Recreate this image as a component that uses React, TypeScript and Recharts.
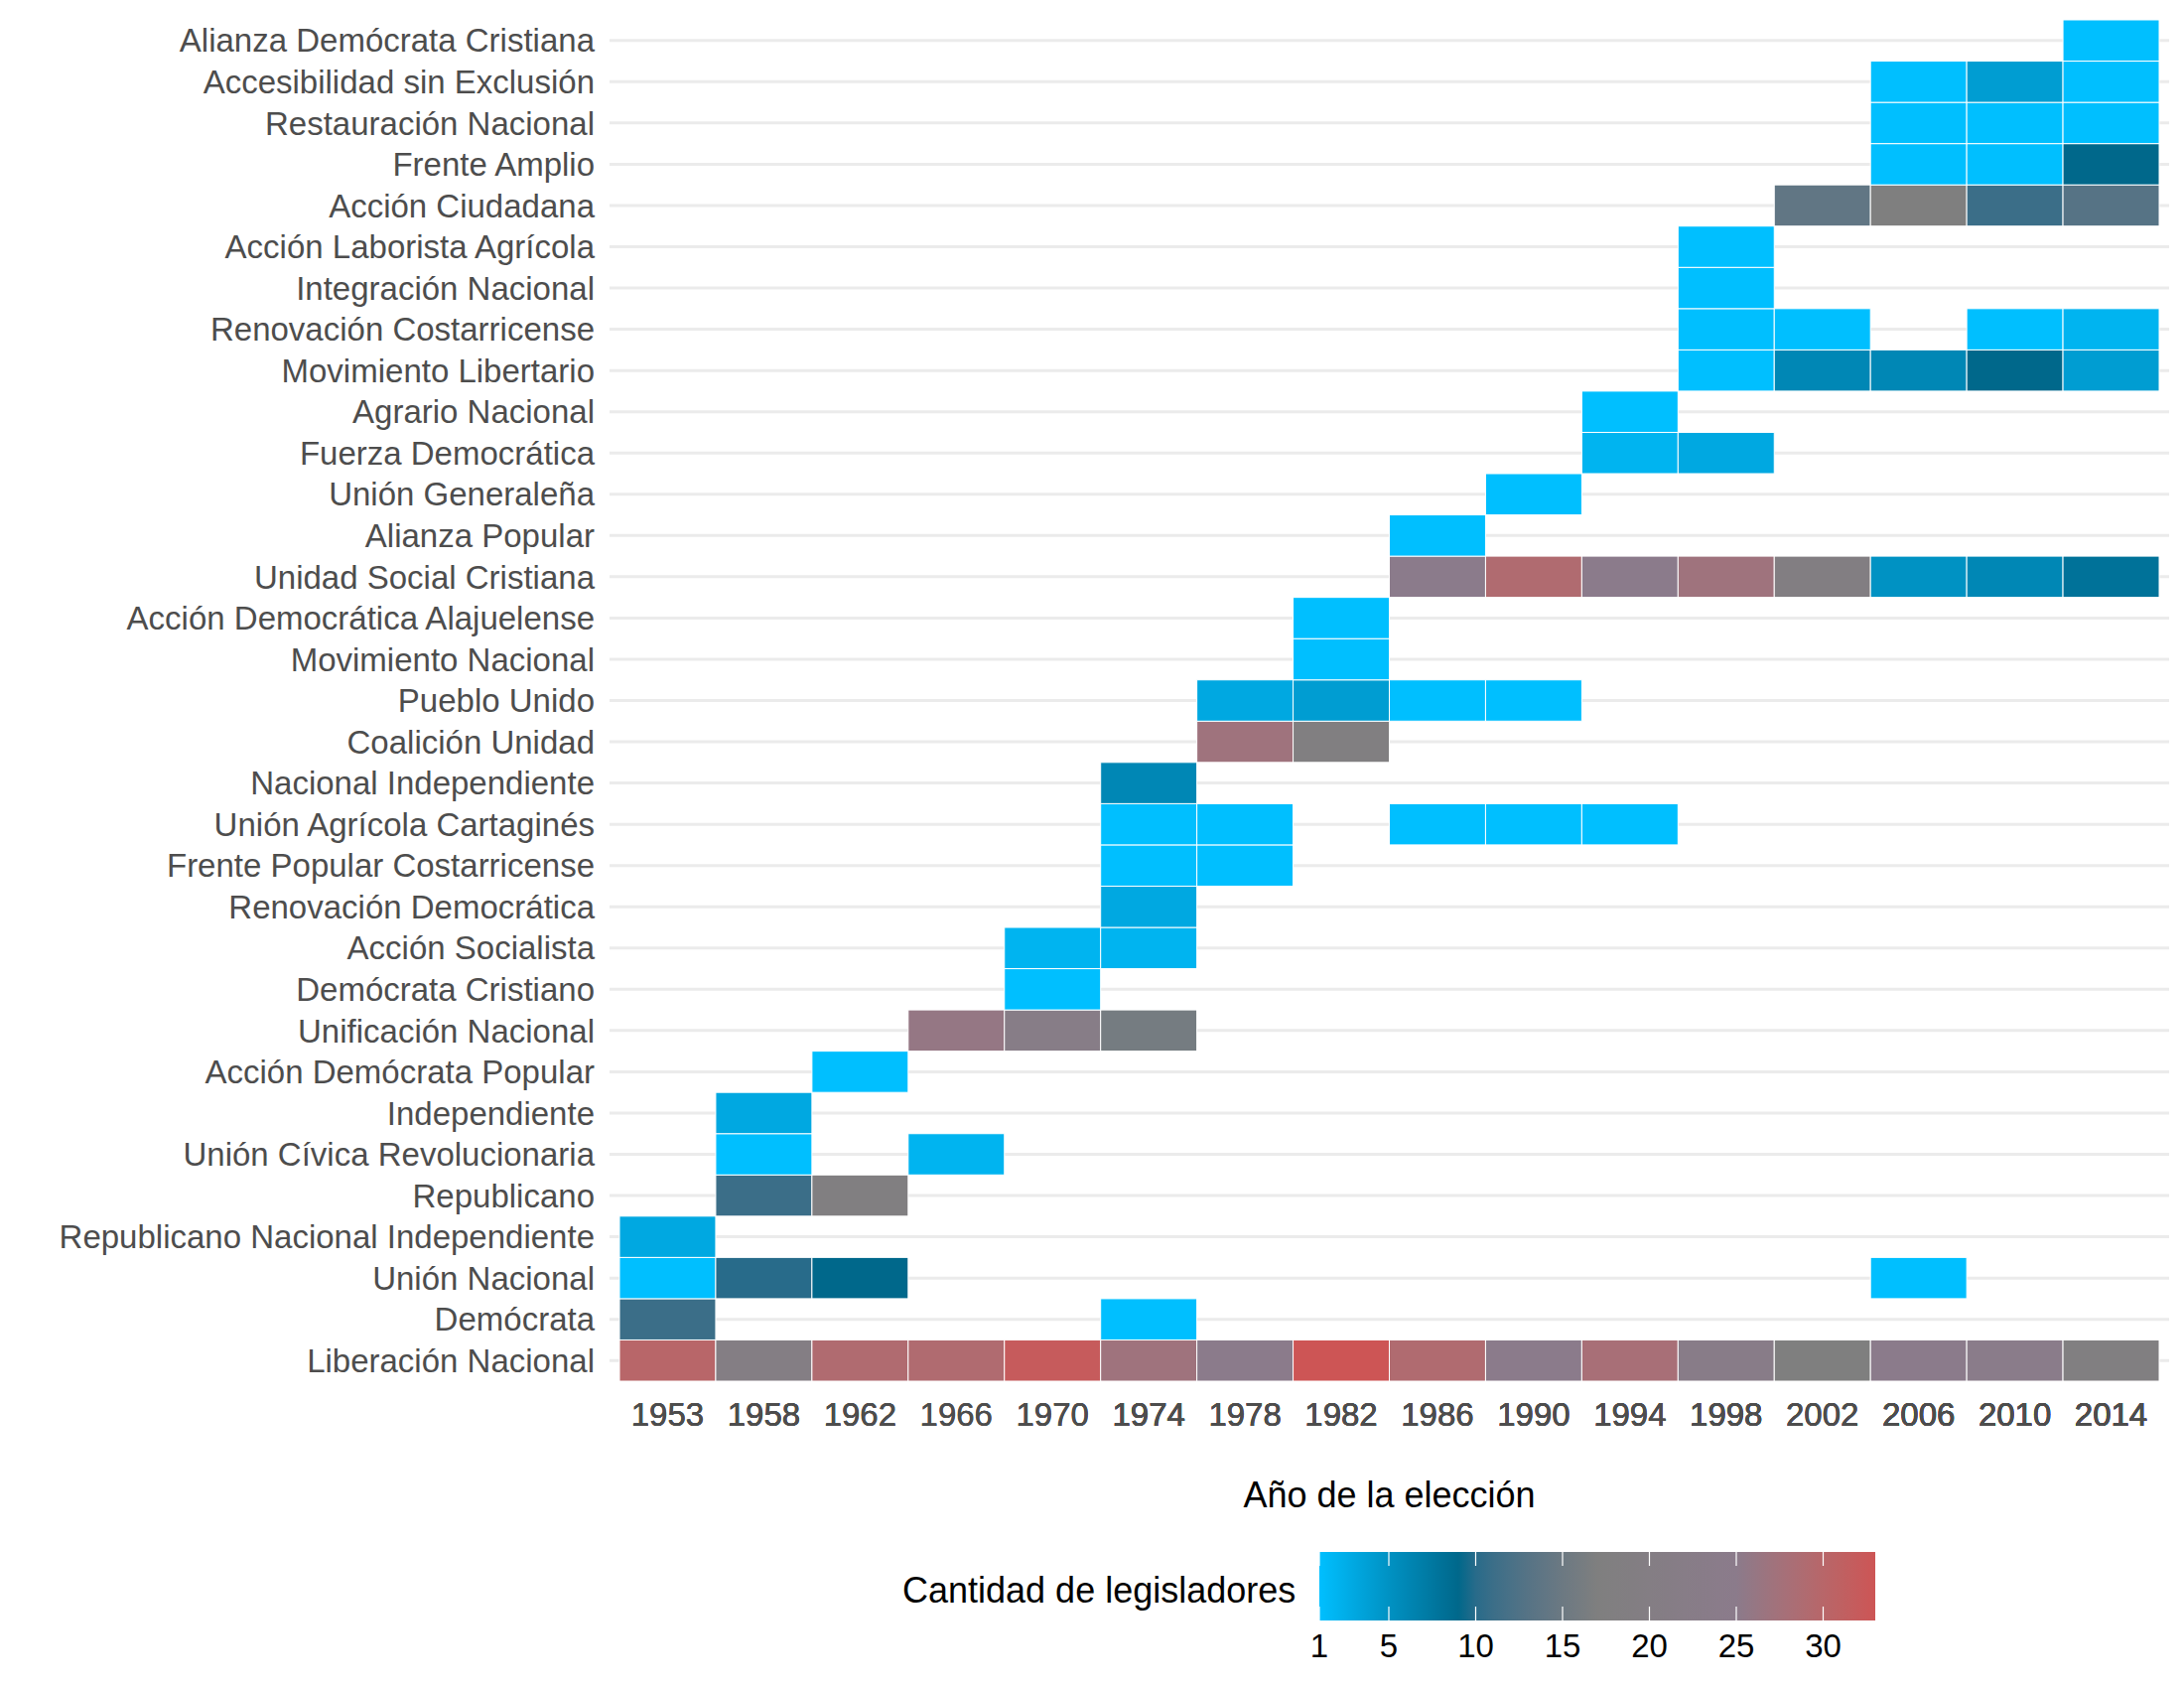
import React from 'react';
import { ScatterChart, Scatter, XAxis, YAxis, CartesianGrid, Label } from 'recharts';

const years = ['1953', '1958', '1962', '1966', '1970', '1974', '1978', '1982', '1986', '1990', '1994', '1998', '2002', '2006', '2010', '2014'];

// parties listed bottom to top, as on the y axis
const parties = [
  'Liberación Nacional', 'Demócrata', 'Unión Nacional', 'Republicano Nacional Independiente', 'Republicano',
  'Unión Cívica Revolucionaria', 'Independiente', 'Acción Demócrata Popular', 'Unificación Nacional',
  'Demócrata Cristiano', 'Acción Socialista', 'Renovación Democrática', 'Frente Popular Costarricense',
  'Unión Agrícola Cartaginés', 'Nacional Independiente', 'Coalición Unidad', 'Pueblo Unido', 'Movimiento Nacional',
  'Acción Democrática Alajuelense', 'Unidad Social Cristiana', 'Alianza Popular', 'Unión Generaleña',
  'Fuerza Democrática', 'Agrario Nacional', 'Movimiento Libertario', 'Renovación Costarricense',
  'Integración Nacional', 'Acción Laborista Agrícola', 'Acción Ciudadana', 'Frente Amplio',
  'Restauración Nacional', 'Accesibilidad sin Exclusión', 'Alianza Demócrata Cristiana',
];

// seats per election, same order as years (null = no seats)
const liberacionNacional = [30, 20, 29, 29, 32, 27, 25, 33, 29, 25, 28, 23, 17, 25, 24, 18];
const democrata = [11, null, null, null, null, 1, null, null, null, null, null, null, null, null, null, null];
const unionNacional = [1, 10, 9, null, null, null, null, null, null, null, null, null, null, 1, null, null];
const republicanoNacInd = [3, null, null, null, null, null, null, null, null, null, null, null, null, null, null, null];
const republicano = [null, 11, 18, null, null, null, null, null, null, null, null, null, null, null, null, null];
const unionCivicaRev = [null, 1, null, 2, null, null, null, null, null, null, null, null, null, null, null, null];
const independiente = [null, 3, null, null, null, null, null, null, null, null, null, null, null, null, null, null];
const accionDemPopular = [null, null, 1, null, null, null, null, null, null, null, null, null, null, null, null, null];
const unificacionNacional = [null, null, null, 26, 22, 16, null, null, null, null, null, null, null, null, null, null];
const democrataCristiano = [null, null, null, null, 1, null, null, null, null, null, null, null, null, null, null, null];
const accionSocialista = [null, null, null, null, 2, 2, null, null, null, null, null, null, null, null, null, null];
const renovacionDemocratica = [null, null, null, null, null, 3, null, null, null, null, null, null, null, null, null, null];
const frentePopular = [null, null, null, null, null, 1, 1, null, null, null, null, null, null, null, null, null];
const unionAgricola = [null, null, null, null, null, 1, 1, null, 1, 1, 1, null, null, null, null, null];
const nacionalIndependiente = [null, null, null, null, null, 6, null, null, null, null, null, null, null, null, null, null];
const coalicionUnidad = [null, null, null, null, null, null, 27, 18, null, null, null, null, null, null, null, null];
const puebloUnido = [null, null, null, null, null, null, 3, 4, 1, 1, null, null, null, null, null, null];
const movimientoNacional = [null, null, null, null, null, null, null, 1, null, null, null, null, null, null, null, null];
const accionDemAlajuelense = [null, null, null, null, null, null, null, 1, null, null, null, null, null, null, null, null];
const unidadSocialCristiana = [null, null, null, null, null, null, null, null, 25, 29, 25, 27, 19, 5, 6, 8];
const alianzaPopular = [null, null, null, null, null, null, null, null, 1, null, null, null, null, null, null, null];
const unionGeneralena = [null, null, null, null, null, null, null, null, null, 1, null, null, null, null, null, null];
const fuerzaDemocratica = [null, null, null, null, null, null, null, null, null, null, 2, 3, null, null, null, null];
const agrarioNacional = [null, null, null, null, null, null, null, null, null, null, 1, null, null, null, null, null];
const movimientoLibertario = [null, null, null, null, null, null, null, null, null, null, null, 1, 6, 6, 9, 4];
const renovacionCostarricense = [null, null, null, null, null, null, null, null, null, null, null, 1, 1, null, 1, 2];
const integracionNacional = [null, null, null, null, null, null, null, null, null, null, null, 1, null, null, null, null];
const accionLaborista = [null, null, null, null, null, null, null, null, null, null, null, 1, null, null, null, null];
const accionCiudadana = [null, null, null, null, null, null, null, null, null, null, null, null, 14, 17, 11, 13];
const frenteAmplio = [null, null, null, null, null, null, null, null, null, null, null, null, null, 1, 1, 9];
const restauracionNacional = [null, null, null, null, null, null, null, null, null, null, null, null, null, 1, 1, 1];
const accesibilidad = [null, null, null, null, null, null, null, null, null, null, null, null, null, 1, 4, 1];
const alianzaDemCristiana = [null, null, null, null, null, null, null, null, null, null, null, null, null, null, null, 1];

const seatsByParty = [
  liberacionNacional, democrata, unionNacional, republicanoNacInd, republicano, unionCivicaRev, independiente,
  accionDemPopular, unificacionNacional, democrataCristiano, accionSocialista, renovacionDemocratica, frentePopular,
  unionAgricola, nacionalIndependiente, coalicionUnidad, puebloUnido, movimientoNacional, accionDemAlajuelense,
  unidadSocialCristiana, alianzaPopular, unionGeneralena, fuerzaDemocratica, agrarioNacional, movimientoLibertario,
  renovacionCostarricense, integracionNacional, accionLaborista, accionCiudadana, frenteAmplio, restauracionNacional,
  accesibilidad, alianzaDemCristiana,
];

const legendTicks = [1, 5, 10, 15, 20, 25, 30];
const seatMin = 1;
const seatMax = 33;
const palette = ['#00BFFF', '#00688B', '#7F7F7F', '#8B7B8B', '#CD5555'];

// --- colour ramp, interpolated in Lab like ggplot's gradientn
const toLin = (c: number) => {
  c /= 255;
  return c <= 0.04045 ? c / 12.92 : Math.pow((c + 0.055) / 1.055, 2.4);
};
const fromLin = (c: number) => {
  const v = c <= 0.0031308 ? 12.92 * c : 1.055 * Math.pow(c, 1 / 2.4) - 0.055;
  return Math.round(Math.min(1, Math.max(0, v)) * 255);
};
const eps = 216 / 24389;
const kap = 24389 / 27;
const fLab = (t: number) => (t > eps ? Math.cbrt(t) : (kap * t + 16) / 116);
const fInv = (t: number) => (t * t * t > eps ? t * t * t : (116 * t - 16) / kap);
const Xn = 0.95047, Zn = 1.08883;

const hexToLab = (hex: string) => {
  const [r, g, b] = [1, 3, 5].map((i) => toLin(parseInt(hex.slice(i, i + 2), 16)));
  const X = 0.4124 * r + 0.3576 * g + 0.1805 * b;
  const Y = 0.2126 * r + 0.7152 * g + 0.0722 * b;
  const Z = 0.0193 * r + 0.1192 * g + 0.9505 * b;
  const fx = fLab(X / Xn), fy = fLab(Y), fz = fLab(Z / Zn);
  return [116 * fy - 16, 500 * (fx - fy), 200 * (fy - fz)];
};
const labToHex = ([L, a, bb]: number[]) => {
  const fy = (L + 16) / 116;
  const X = Xn * fInv(fy + a / 500), Y = fInv(fy), Z = Zn * fInv(fy - bb / 200);
  const r = 3.2406 * X - 1.5372 * Y - 0.4986 * Z;
  const g = -0.9689 * X + 1.8758 * Y + 0.0415 * Z;
  const b = 0.0557 * X - 0.204 * Y + 1.057 * Z;
  return '#' + [r, g, b].map((c) => fromLin(c).toString(16).padStart(2, '0')).join('');
};
const paletteLab = palette.map(hexToLab);

const seatColour = (v: number) => {
  const t = ((v - seatMin) / (seatMax - seatMin)) * (palette.length - 1);
  const i = Math.min(palette.length - 2, Math.max(0, Math.floor(t)));
  const f = t - i;
  const a = paletteLab[i], b = paletteLab[i + 1];
  return labToHex(a.map((x, k) => x + (b[k] - x) * f));
};

const cells: { year: string; party: string; seats: number }[] = [];
parties.forEach((party, i) => {
  seatsByParty[i].forEach((v, j) => {
    if (v != null) cells.push({ year: years[j], party, seats: v });
  });
});

// layout
const W = 2200;
const H = 1700;
const margin = { top: 16, right: 15, bottom: 245, left: 0 };
const yAxisW = 614;
const xAxisH = 60;
const padX = 10;
const padY = 4;
const cellW = (W - margin.left - margin.right - yAxisW - 2 * padX) / years.length;
const cellH = (H - margin.top - margin.bottom - xAxisH - 2 * padY) / parties.length;

const Tile = (props: any) => {
  const { cx, cy, payload } = props;
  if (cx == null || cy == null) return null;
  return (
    <rect
      x={cx - cellW / 2}
      y={cy - cellH / 2}
      width={cellW}
      height={cellH}
      fill={seatColour(payload.seats)}
      stroke="#ffffff"
      strokeWidth={1}
    />
  );
};

// colour bar legend
const barX = 1329;
const barY = 1563;
const barW = 560;
const barH = 69;
const barPos = (v: number) => barX + ((v - seatMin) / (seatMax - seatMin)) * barW;
const gradStops: number[] = [];
for (let v = seatMin; v <= seatMax; v++) gradStops.push(v);

const ColourLegend = () => (
  <svg width={W} height={H} style={{ position: 'absolute', left: 0, top: 0, pointerEvents: 'none' }}>
    <defs>
      <linearGradient id="seatBar" x1="0" x2="1" y1="0" y2="0">
        {gradStops.map((v) => (
          <stop key={v} offset={(v - seatMin) / (seatMax - seatMin)} stopColor={seatColour(v)} />
        ))}
      </linearGradient>
    </defs>
    <text x={909} y={1601} dominantBaseline="central" fontSize={36} fill="#000">
      Cantidad de legisladores
    </text>
    <rect x={barX} y={barY} width={barW} height={barH} fill="url(#seatBar)" />
    {legendTicks.map((v) => (
      <g key={v}>
        <line x1={barPos(v)} x2={barPos(v)} y1={barY} y2={barY + 14} stroke="#fff" strokeWidth={1.2} />
        <line x1={barPos(v)} x2={barPos(v)} y1={barY + barH - 14} y2={barY + barH} stroke="#fff" strokeWidth={1.2} />
        <text x={barPos(v)} y={1657} textAnchor="middle" dominantBaseline="central" fontSize={33} fill="#000">
          {v}
        </text>
      </g>
    ))}
  </svg>
);

export default function App() {
  return (
    <div style={{ position: 'absolute', left: 0, top: 0, width: W, height: H, background: '#fff', fontFamily: '"Liberation Sans", Arial, sans-serif' }}>
      <ScatterChart width={W} height={H} margin={margin}>
        <CartesianGrid vertical={false} stroke="#EBEBEB" strokeWidth={3} syncWithTicks />
        <XAxis
          type="category"
          dataKey="year"
          scale="band"
          allowDuplicatedCategory={false}
          interval={0}
          height={xAxisH}
          padding={{ left: padX, right: padX }}
          axisLine={false}
          tickLine={false}
          tickSize={6}
          tickMargin={12}
          tick={{ fill: '#4D4D4D', fontSize: 33 }}
        >
          <Label value="Año de la elección" position="bottom" offset={37} fill="#000" fontSize={36} />
        </XAxis>
        <YAxis
          type="category"
          dataKey="party"
          scale="band"
          allowDuplicatedCategory={false}
          interval={0}
          width={yAxisW}
          padding={{ top: padY, bottom: padY }}
          axisLine={false}
          tickLine={false}
          tickSize={6}
          tickMargin={9}
          tick={{ fill: '#4D4D4D', fontSize: 33 }}
        />
        <Scatter data={cells} shape={Tile} isAnimationActive={false} />
      </ScatterChart>
      <ColourLegend />
    </div>
  );
}
